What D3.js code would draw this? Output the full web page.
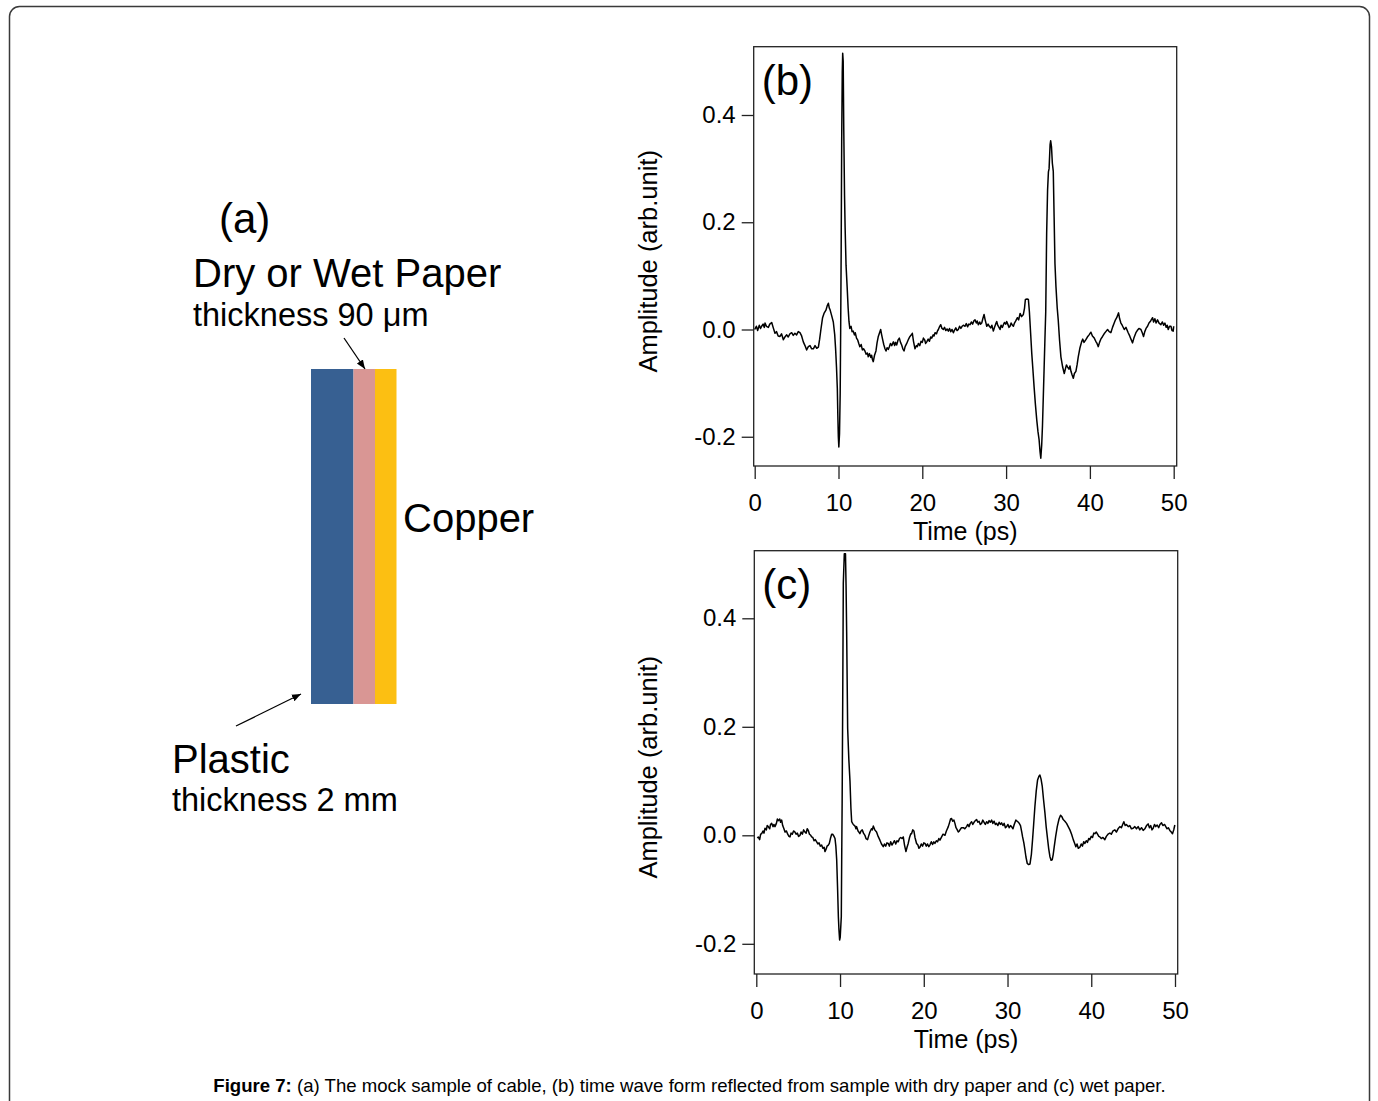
<!DOCTYPE html>
<html>
<head>
<meta charset="utf-8">
<script src="https://d3js.org/d3.v7.min.js"></script>
<style>
  body { margin: 0; background: #fff; }
  svg text { font-family: "Liberation Sans", Arial, sans-serif; fill: #000; }
</style>
</head>
<body>
<svg id="fig" width="1378" height="1101"></svg>
<script>
// tick labels
const timeTicks = [0, 10, 20, 30, 40, 50];
const ampTicks = [-0.2, 0.0, 0.2, 0.4];

// (b) dry paper: [time ps, amplitude]
const dryPaper = [[0.00,0.000],[0.20,0.006],[0.35,-0.002],[0.55,0.008],[0.70,0.002],[0.83,0.006],[1.00,0.010],[1.15,0.004],[1.23,0.012],[1.40,0.006],[1.63,0.004],[1.80,0.010],[2.03,0.013],[2.20,0.004],[2.42,-0.007],[2.60,-0.004],[2.80,-0.012],[3.02,-0.013],[3.20,-0.008],[3.42,-0.019],[3.60,-0.014],[3.82,-0.010],[4.00,-0.014],[4.20,-0.008],[4.41,-0.006],[4.60,-0.011],[4.80,-0.007],[5.00,-0.010],[5.20,-0.004],[5.40,-0.006],[5.60,-0.012],[5.80,-0.023],[6.00,-0.030],[6.20,-0.038],[6.40,-0.032],[6.60,-0.030],[6.80,-0.036],[7.00,-0.036],[7.20,-0.030],[7.40,-0.035],[7.60,-0.033],[7.75,-0.018],[7.90,0.000],[8.10,0.022],[8.27,0.030],[8.50,0.036],[8.65,0.044],[8.79,0.049],[8.90,0.040],[8.99,0.037],[9.20,0.025],[9.38,0.014],[9.55,-0.010],[9.66,-0.038],[9.76,-0.070],[9.86,-0.110],[9.92,-0.160],[9.98,-0.200],[10.04,-0.219],[10.12,-0.195],[10.20,-0.120],[10.26,0.000],[10.32,0.150],[10.38,0.350],[10.45,0.480],[10.50,0.515],[10.56,0.500],[10.63,0.372],[10.72,0.250],[10.79,0.190],[10.90,0.120],[11.03,0.080],[11.15,0.040],[11.25,0.015],[11.35,0.002],[11.50,0.006],[11.62,-0.004],[11.75,-0.003],[11.90,-0.010],[12.00,-0.006],[12.15,-0.016],[12.30,-0.020],[12.42,-0.026],[12.55,-0.032],[12.70,-0.028],[12.85,-0.038],[13.00,-0.036],[13.15,-0.040],[13.30,-0.046],[13.45,-0.044],[13.55,-0.051],[13.70,-0.045],[13.85,-0.052],[13.95,-0.048],[14.05,-0.056],[14.15,-0.060],[14.30,-0.048],[14.47,-0.040],[14.60,-0.025],[14.75,-0.013],[14.90,-0.006],[15.03,0.000],[15.15,-0.010],[15.27,-0.019],[15.40,-0.028],[15.55,-0.036],[15.67,-0.040],[15.80,-0.034],[15.95,-0.037],[16.07,-0.032],[16.20,-0.026],[16.35,-0.030],[16.55,-0.023],[16.70,-0.030],[16.80,-0.024],[16.94,-0.029],[17.10,-0.020],[17.26,-0.016],[17.40,-0.024],[17.54,-0.029],[17.68,-0.036],[17.82,-0.040],[17.95,-0.032],[18.14,-0.026],[18.30,-0.020],[18.42,-0.016],[18.53,-0.013],[18.70,-0.010],[18.81,-0.007],[18.95,-0.022],[19.13,-0.036],[19.30,-0.030],[19.40,-0.032],[19.53,-0.026],[19.70,-0.030],[19.85,-0.022],[20.00,-0.024],[20.13,-0.016],[20.30,-0.020],[20.40,-0.026],[20.53,-0.023],[20.70,-0.018],[20.85,-0.022],[21.00,-0.014],[21.12,-0.016],[21.30,-0.010],[21.40,-0.012],[21.52,-0.006],[21.70,-0.008],[21.80,-0.003],[21.92,0.000],[22.05,0.005],[22.20,0.009],[22.35,0.002],[22.51,0.000],[22.65,0.004],[22.80,-0.002],[22.95,0.001],[23.11,-0.003],[23.25,0.002],[23.40,-0.004],[23.55,0.000],[23.71,-0.006],[23.85,-0.001],[24.00,0.003],[24.15,-0.002],[24.30,0.000],[24.45,0.006],[24.60,0.002],[24.75,0.006],[24.90,0.008],[25.10,0.006],[25.25,0.011],[25.40,0.005],[25.55,0.010],[25.70,0.009],[25.85,0.014],[26.00,0.010],[26.15,0.016],[26.29,0.018],[26.45,0.012],[26.55,0.016],[26.69,0.009],[26.85,0.014],[26.95,0.010],[27.09,0.012],[27.22,0.020],[27.37,0.028],[27.50,0.018],[27.60,0.012],[27.69,0.006],[27.85,0.010],[28.00,0.006],[28.16,0.003],[28.30,0.008],[28.48,-0.003],[28.62,0.004],[28.75,0.010],[28.88,0.015],[29.00,0.008],[29.15,0.004],[29.28,0.000],[29.40,0.008],[29.55,0.004],[29.68,0.009],[29.80,0.013],[29.95,0.010],[30.07,0.015],[30.20,0.010],[30.35,0.004],[30.47,0.006],[30.60,0.012],[30.75,0.008],[30.87,0.006],[31.00,0.012],[31.15,0.016],[31.35,0.022],[31.50,0.018],[31.67,0.030],[31.85,0.024],[32.06,0.028],[32.20,0.040],[32.30,0.056],[32.50,0.057],[32.66,0.056],[32.78,0.033],[32.92,-0.005],[33.06,-0.044],[33.20,-0.075],[33.34,-0.107],[33.50,-0.140],[33.66,-0.169],[33.80,-0.190],[33.94,-0.206],[34.05,-0.228],[34.14,-0.240],[34.25,-0.215],[34.34,-0.180],[34.45,-0.120],[34.53,-0.076],[34.63,-0.020],[34.73,0.033],[34.84,0.180],[34.95,0.260],[35.05,0.294],[35.13,0.300],[35.25,0.345],[35.32,0.352],[35.42,0.340],[35.52,0.310],[35.63,0.295],[35.73,0.210],[35.83,0.123],[35.95,0.080],[36.10,0.040],[36.22,0.018],[36.38,-0.020],[36.54,-0.051],[36.75,-0.070],[36.94,-0.082],[37.10,-0.072],[37.20,-0.066],[37.34,-0.070],[37.50,-0.074],[37.62,-0.068],[37.74,-0.078],[37.88,-0.085],[38.02,-0.091],[38.15,-0.082],[38.33,-0.078],[38.47,-0.066],[38.61,-0.051],[38.80,-0.035],[39.01,-0.023],[39.15,-0.018],[39.30,-0.024],[39.52,-0.019],[39.70,-0.014],[39.90,-0.010],[40.12,-0.005],[40.30,-0.012],[40.52,-0.016],[40.70,-0.022],[40.85,-0.026],[41.00,-0.032],[41.15,-0.024],[41.30,-0.018],[41.51,-0.013],[41.70,-0.008],[41.90,-0.004],[42.11,0.000],[42.30,-0.004],[42.50,-0.006],[42.70,0.004],[42.90,0.012],[43.05,0.018],[43.20,0.022],[43.42,0.031],[43.55,0.020],[43.70,0.012],[43.85,0.008],[44.10,0.000],[44.30,0.004],[44.57,-0.006],[44.75,-0.012],[44.90,-0.018],[45.09,-0.025],[45.25,-0.016],[45.49,-0.006],[45.65,-0.002],[45.85,0.002],[46.09,0.000],[46.25,-0.006],[46.40,-0.013],[46.55,-0.004],[46.70,0.002],[46.88,0.006],[47.05,0.012],[47.25,0.016],[47.48,0.022],[47.60,0.014],[47.75,0.020],[47.90,0.012],[48.07,0.018],[48.25,0.012],[48.47,0.009],[48.65,0.014],[48.80,0.008],[48.95,0.012],[49.10,0.004],[49.22,0.008],[49.35,0.000],[49.50,0.006],[49.67,0.006],[49.80,-0.002],[49.94,-0.003],[50.00,0.006]];

// (c) wet paper: [time ps, amplitude]
const wetPaper = [[0.12,-0.005],[0.24,-0.003],[0.40,-0.008],[0.52,0.002],[0.64,0.003],[0.80,0.008],[0.92,0.004],[1.04,0.013],[1.20,0.010],[1.30,0.018],[1.43,0.016],[1.60,0.012],[1.70,0.020],[1.83,0.022],[2.00,0.016],[2.10,0.020],[2.23,0.016],[2.40,0.022],[2.52,0.030],[2.63,0.027],[2.80,0.030],[2.90,0.024],[3.03,0.028],[3.15,0.018],[3.30,0.012],[3.43,0.006],[3.60,0.008],[3.75,0.002],[3.90,-0.002],[4.02,-0.003],[4.15,0.004],[4.30,0.002],[4.45,0.008],[4.62,0.006],[4.75,0.002],[4.90,0.004],[5.05,-0.002],[5.22,0.000],[5.35,0.006],[5.50,0.002],[5.65,0.010],[5.81,0.006],[5.95,0.004],[6.08,0.012],[6.21,0.009],[6.35,0.002],[6.50,0.000],[6.61,-0.003],[6.75,-0.004],[6.90,-0.010],[7.05,-0.008],[7.21,-0.012],[7.35,-0.016],[7.50,-0.014],[7.65,-0.020],[7.80,-0.018],[7.95,-0.024],[8.10,-0.022],[8.20,-0.030],[8.32,-0.026],[8.45,-0.020],[8.60,-0.018],[8.72,-0.015],[8.85,-0.006],[9.00,0.002],[9.12,0.002],[9.25,-0.001],[9.40,-0.006],[9.50,-0.020],[9.60,-0.045],[9.71,-0.100],[9.80,-0.150],[9.87,-0.174],[9.95,-0.193],[10.02,-0.188],[10.10,-0.165],[10.15,-0.150],[10.20,-0.040],[10.25,0.059],[10.32,0.250],[10.39,0.464],[10.51,0.519],[10.65,0.519],[10.72,0.460],[10.79,0.375],[10.91,0.197],[11.05,0.140],[11.19,0.099],[11.30,0.050],[11.39,0.025],[11.50,0.022],[11.58,0.020],[11.79,0.017],[11.90,0.012],[11.98,0.016],[12.15,0.008],[12.25,0.006],[12.37,0.003],[12.50,0.008],[12.65,0.010],[12.80,0.004],[12.97,0.000],[13.10,-0.006],[13.29,-0.008],[13.40,-0.002],[13.57,0.006],[13.75,0.012],[13.85,0.010],[13.97,0.017],[14.15,0.010],[14.36,0.006],[14.55,-0.002],[14.76,-0.009],[14.95,-0.016],[15.16,-0.021],[15.30,-0.016],[15.45,-0.020],[15.60,-0.014],[15.76,-0.015],[15.90,-0.020],[16.05,-0.012],[16.20,-0.018],[16.35,-0.014],[16.50,-0.010],[16.65,-0.016],[16.80,-0.010],[16.95,-0.012],[17.10,-0.006],[17.25,-0.004],[17.40,-0.006],[17.55,-0.003],[17.70,-0.018],[17.87,-0.030],[18.00,-0.022],[18.14,-0.015],[18.30,-0.004],[18.45,0.003],[18.54,0.003],[18.68,0.010],[18.82,0.008],[18.95,-0.004],[19.14,-0.015],[19.30,-0.018],[19.42,-0.024],[19.54,-0.022],[19.70,-0.016],[19.85,-0.020],[20.00,-0.014],[20.14,-0.015],[20.30,-0.020],[20.45,-0.016],[20.60,-0.021],[20.73,-0.018],[20.90,-0.012],[21.05,-0.017],[21.20,-0.012],[21.33,-0.015],[21.50,-0.010],[21.65,-0.012],[21.80,-0.006],[21.93,-0.009],[22.10,-0.004],[22.30,0.002],[22.53,0.000],[22.70,0.008],[22.93,0.016],[23.05,0.022],[23.20,0.030],[23.32,0.031],[23.45,0.026],[23.60,0.028],[23.72,0.022],[23.85,0.014],[24.00,0.010],[24.12,0.006],[24.25,0.008],[24.32,0.010],[24.50,0.014],[24.72,0.014],[24.90,0.012],[25.11,0.016],[25.25,0.020],[25.40,0.016],[25.55,0.022],[25.71,0.025],[25.85,0.020],[26.00,0.024],[26.15,0.027],[26.31,0.029],[26.45,0.024],[26.60,0.026],[26.75,0.020],[26.90,0.022],[27.05,0.028],[27.20,0.024],[27.35,0.020],[27.50,0.025],[27.65,0.022],[27.80,0.027],[27.95,0.024],[28.10,0.028],[28.25,0.022],[28.40,0.026],[28.55,0.020],[28.69,0.022],[28.85,0.018],[29.00,0.024],[29.15,0.020],[29.29,0.023],[29.45,0.018],[29.60,0.022],[29.75,0.014],[29.89,0.016],[30.05,0.020],[30.20,0.014],[30.35,0.018],[30.48,0.016],[30.65,0.012],[30.80,0.020],[31.00,0.028],[31.15,0.026],[31.30,0.024],[31.40,0.022],[31.55,0.018],[31.70,0.006],[31.80,-0.003],[31.95,-0.014],[32.08,-0.027],[32.20,-0.040],[32.36,-0.052],[32.52,-0.054],[32.68,-0.053],[32.85,-0.035],[32.99,-0.008],[33.12,0.020],[33.27,0.053],[33.43,0.082],[33.59,0.102],[33.75,0.109],[33.87,0.111],[34.00,0.104],[34.15,0.090],[34.30,0.066],[34.47,0.041],[34.62,0.015],[34.79,-0.008],[34.92,-0.025],[35.06,-0.039],[35.20,-0.046],[35.34,-0.045],[35.45,-0.036],[35.58,-0.021],[35.75,-0.002],[35.94,0.016],[36.15,0.030],[36.33,0.037],[36.50,0.034],[36.65,0.029],[36.85,0.026],[37.05,0.022],[37.25,0.016],[37.45,0.010],[37.65,0.002],[37.85,-0.008],[38.00,-0.014],[38.16,-0.021],[38.30,-0.016],[38.45,-0.024],[38.64,-0.022],[38.80,-0.016],[38.95,-0.020],[39.10,-0.012],[39.24,-0.015],[39.40,-0.010],[39.55,-0.013],[39.70,-0.006],[39.83,-0.008],[40.00,-0.002],[40.15,-0.004],[40.30,0.004],[40.43,0.003],[40.60,0.006],[40.75,0.002],[40.90,-0.002],[41.03,-0.003],[41.20,-0.006],[41.40,-0.004],[41.62,-0.008],[41.80,-0.002],[42.00,0.002],[42.22,0.004],[42.40,0.002],[42.60,0.008],[42.82,0.010],[43.00,0.006],[43.20,0.012],[43.41,0.016],[43.60,0.014],[43.75,0.020],[43.89,0.025],[44.05,0.018],[44.20,0.020],[44.41,0.016],[44.60,0.018],[44.80,0.012],[45.00,0.013],[45.20,0.016],[45.40,0.012],[45.60,0.016],[45.80,0.010],[46.00,0.014],[46.20,0.009],[46.40,0.012],[46.60,0.018],[46.79,0.021],[46.95,0.014],[47.10,0.018],[47.25,0.010],[47.39,0.013],[47.55,0.020],[47.70,0.016],[47.87,0.019],[48.05,0.014],[48.20,0.020],[48.39,0.023],[48.55,0.018],[48.75,0.020],[48.90,0.016],[49.05,0.012],[49.20,0.014],[49.38,0.009],[49.55,0.006],[49.70,0.003],[49.85,0.010],[49.98,0.019]];

// (a) layer stack of the mock cable sample
const layerNames = ["Plastic", "Paper", "Copper"];
const layerColors = ["#376092", "#d99694", "#fcbf12"];

const svg = d3.select("#fig");

// outer figure frame
svg.append("rect")
  .attr("x", 9.5).attr("y", 6.5)
  .attr("width", 1360).attr("height", 1130)
  .attr("rx", 10)
  .attr("fill", "none")
  .attr("stroke", "#3a3a3a")
  .attr("stroke-width", 1.5);

svg.append("defs").append("marker")
  .attr("id", "arrow")
  .attr("viewBox", "0 0 10 10")
  .attr("refX", 10).attr("refY", 5)
  .attr("markerWidth", 7).attr("markerHeight", 7)
  .attr("orient", "auto")
  .append("path").attr("d", "M0,1 L10,5 L0,9 z").attr("fill", "#000");

// ---- panel (a) ----
// plastic is drawn wider than paper and copper
const layerEdges = [311, 353.5, 375, 396.5];
svg.append("g").selectAll("rect").data(layerNames).join("rect")
  .attr("x", (d, i) => layerEdges[i])
  .attr("y", 369)
  .attr("width", (d, i) => layerEdges[i + 1] - layerEdges[i])
  .attr("height", 335)
  .attr("fill", (d, i) => layerColors[i]);

const aText = svg.append("g");
aText.append("text").attr("x", 219).attr("y", 233).style("font-size", "42px").text("(a)");
aText.append("text").attr("x", 193).attr("y", 287).style("font-size", "40px").text("Dry or Wet Paper");
aText.append("text").attr("x", 193).attr("y", 326).style("font-size", "32.5px").text("thickness 90 μm");
aText.append("text").attr("x", 403).attr("y", 532).style("font-size", "40px").text("Copper");
aText.append("text").attr("x", 172).attr("y", 773).style("font-size", "40px").text("Plastic");
aText.append("text").attr("x", 172).attr("y", 811).style("font-size", "32.5px").text("thickness 2 mm");

svg.append("line").attr("x1", 344).attr("y1", 338).attr("x2", 365).attr("y2", 369)
  .attr("stroke", "#000").attr("stroke-width", 1.3).attr("marker-end", "url(#arrow)");
svg.append("line").attr("x1", 236).attr("y1", 726).attr("x2", 301).attr("y2", 694)
  .attr("stroke", "#000").attr("stroke-width", 1.3).attr("marker-end", "url(#arrow)");

// ---- panels (b) and (c) ----
const panels = [
  { tag: "(b)", data: dryPaper, left: 753.7, right: 1176.7, top: 46.7, bottom: 466,
    t0: 754.7, t50: 1173.7, a0: 329.5, a4: 115 },
  { tag: "(c)", data: wetPaper, left: 754.3, right: 1177.7, top: 550.7, bottom: 974,
    t0: 756.3, t50: 1175, a0: 835.3, a4: 618.3 }
];

panels.forEach(p => {
  const x = d3.scaleLinear().domain([0, 50]).range([p.t0, p.t50]);
  const y = d3.scaleLinear().domain([0, 0.4]).range([p.a0, p.a4]);
  const g = svg.append("g");

  g.append("rect")
    .attr("x", p.left).attr("y", p.top)
    .attr("width", p.right - p.left).attr("height", p.bottom - p.top)
    .attr("fill", "none").attr("stroke", "#222").attr("stroke-width", 1.3);

  const yAxis = g.append("g")
    .attr("transform", `translate(${p.left},0)`)
    .call(d3.axisLeft(y).tickValues(ampTicks).tickSize(12).tickPadding(6)
      .tickFormat(d => d.toFixed(1)));
  yAxis.select(".domain").remove();

  const xAxis = g.append("g")
    .attr("transform", `translate(0,${p.bottom})`)
    .call(d3.axisBottom(x).tickValues(timeTicks).tickSize(13).tickPadding(15));
  xAxis.select(".domain").remove();

  g.selectAll(".tick line").attr("stroke", "#222").attr("stroke-width", 1.3);
  g.selectAll(".tick text").style("font-size", "24px")
    .style("font-family", '"Liberation Sans", Arial, sans-serif');

  g.append("text")
    .attr("x", (p.left + p.right) / 2).attr("y", p.bottom + 74)
    .attr("text-anchor", "middle").style("font-size", "25px").text("Time (ps)");

  g.append("text")
    .attr("transform", `translate(657,${(p.top + p.bottom) / 2 + 5}) rotate(-90)`)
    .attr("text-anchor", "middle").style("font-size", "25.5px").text("Amplitude (arb.unit)");

  g.append("text")
    .attr("x", p.left + 8).attr("y", p.top + 48)
    .style("font-size", "42px").text(p.tag);

  g.append("path")
    .datum(p.data)
    .attr("fill", "none")
    .attr("stroke", "#000")
    .attr("stroke-width", 1.5)
    .attr("stroke-linejoin", "round")
    .attr("d", d3.line().x(d => x(d[0])).y(d => y(d[1])));
});

// caption
const cap = svg.append("text")
  .attr("x", 689.5).attr("y", 1092)
  .attr("text-anchor", "middle")
  .style("font-size", "18.6px");
cap.append("tspan").style("font-weight", "bold").text("Figure 7:");
cap.append("tspan").text(" (a) The mock sample of cable, (b) time wave form reflected from sample with dry paper and (c) wet paper.");
</script>
</body>
</html>
